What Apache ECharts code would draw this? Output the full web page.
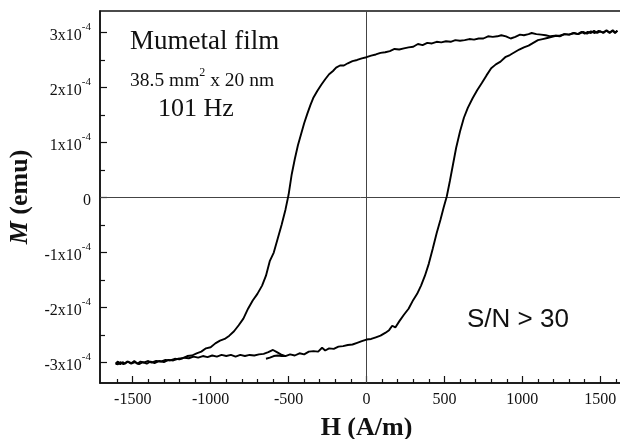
<!DOCTYPE html>
<html>
<head>
<meta charset="utf-8">
<script src="https://cdn.jsdelivr.net/npm/echarts@6/dist/echarts.min.js"></script>
<style>
  html, body { margin: 0; padding: 0; background: #fff; }
  #chart { width: 620px; height: 439px; }
</style>
</head>
<body>
<div id="chart"></div>
<script>
// Hysteresis loop of a Mumetal film: field H (A/m) vs moment M (units of 1e-4 emu)
const risingBranch = [
  [-1610,-3.02],[-1595,-2.98],[-1580,-3.03],[-1565,-2.99],[-1550,-3.02],[-1530,-2.98],[-1510,-3.01],
  [-1490,-2.97],[-1470,-3.02],[-1450,-2.98],[-1430,-3.00],[-1400,-2.97],[-1380,-3.00],[-1350,-2.97],
  [-1320,-2.98],[-1290,-2.95],[-1260,-2.96],[-1230,-2.93],[-1200,-2.94],[-1170,-2.91],[-1140,-2.92],
  [-1110,-2.89],[-1080,-2.91],[-1050,-2.88],[-1020,-2.90],[-990,-2.87],[-960,-2.89],[-930,-2.86],
  [-900,-2.88],[-870,-2.86],[-840,-2.89],[-810,-2.86],[-780,-2.88],[-750,-2.86],[-720,-2.87],
  [-690,-2.85],[-660,-2.84],[-630,-2.81],[-600,-2.77],[-575,-2.81],[-550,-2.85],[-520,-2.88],
  [-490,-2.85],[-460,-2.87],[-430,-2.83],[-400,-2.85],[-370,-2.80],[-340,-2.79],[-310,-2.80],
  [-285,-2.73],[-265,-2.78],[-240,-2.74],[-210,-2.75],[-180,-2.71],[-150,-2.70],[-120,-2.68],
  [-90,-2.67],[-60,-2.64],[-30,-2.61],[0,-2.58],[30,-2.57],[60,-2.54],[90,-2.51],[120,-2.46],
  [145,-2.41],[165,-2.33],[185,-2.36],[210,-2.25],[240,-2.13],[270,-2.02],[300,-1.86],[325,-1.75],
  [350,-1.60],[375,-1.42],[400,-1.20],[425,-0.93],[450,-0.65],[475,-0.40],[495,-0.18],[515,0.02],
  [535,0.30],[555,0.60],[575,0.90],[600,1.20],[625,1.45],[650,1.63],[680,1.80],[710,1.95],
  [740,2.08],[770,2.22],[800,2.35],[830,2.42],[860,2.47],[890,2.55],[920,2.59],[950,2.64],
  [980,2.69],[1010,2.73],[1040,2.76],[1070,2.81],[1100,2.86],[1130,2.88],[1160,2.90],[1190,2.92],
  [1215,2.94],[1240,2.93],[1270,2.97],[1300,2.96],[1330,2.99],[1360,2.97],[1390,3.01],[1415,2.98],
  [1440,3.02],[1465,2.99],[1490,3.03],[1515,3.00],[1540,3.03],[1560,2.99],[1580,3.04],[1595,3.00],
  [1610,3.03]
];

const fallingBranch = [
  [1610,3.03],[1595,2.99],[1580,3.03],[1560,3.00],[1540,3.04],[1520,2.99],[1500,3.02],[1480,2.99],
  [1460,3.03],[1440,2.99],[1420,3.01],[1400,2.98],[1380,3.01],[1355,2.97],[1330,2.99],[1300,2.96],
  [1270,2.97],[1240,2.94],[1210,2.94],[1180,2.93],[1150,2.95],[1120,2.96],[1090,2.97],[1060,2.99],
  [1040,2.97],[1010,2.95],[985,2.96],[955,2.92],[925,2.89],[895,2.93],[865,2.95],[840,2.93],
  [810,2.92],[780,2.93],[750,2.89],[720,2.89],[690,2.87],[660,2.88],[630,2.86],[600,2.85],
  [570,2.86],[540,2.83],[510,2.84],[480,2.82],[450,2.83],[420,2.80],[390,2.81],[360,2.77],
  [330,2.79],[300,2.74],[270,2.73],[240,2.71],[210,2.69],[180,2.70],[150,2.66],[120,2.64],
  [90,2.63],[60,2.60],[30,2.58],[0,2.55],[-30,2.53],[-60,2.50],[-90,2.48],[-120,2.44],
  [-145,2.40],[-170,2.40],[-195,2.36],[-215,2.30],[-240,2.24],[-265,2.15],[-290,2.05],[-315,1.94],
  [-340,1.82],[-360,1.68],[-380,1.52],[-400,1.35],[-420,1.15],[-440,0.95],[-460,0.70],[-480,0.42],
  [-500,0.05],[-520,-0.22],[-545,-0.50],[-570,-0.75],[-595,-1.00],[-620,-1.15],[-645,-1.42],
  [-670,-1.60],[-700,-1.75],[-730,-1.87],[-760,-2.02],[-790,-2.20],[-820,-2.32],[-850,-2.43],
  [-880,-2.51],[-910,-2.57],[-940,-2.60],[-970,-2.65],[-1000,-2.72],[-1030,-2.74],[-1060,-2.80],
  [-1090,-2.83],[-1120,-2.87],[-1150,-2.88],[-1180,-2.92],[-1210,-2.93],[-1240,-2.96],[-1270,-2.95],
  [-1300,-2.99],[-1330,-2.97],[-1360,-3.01],[-1385,-2.98],[-1410,-3.02],[-1435,-2.99],[-1460,-3.03],
  [-1485,-2.99],[-1510,-3.02],[-1535,-2.98],[-1560,-3.03],[-1580,-2.99],[-1595,-3.03],[-1610,-3.02]
];

// start of the recorded trace, before it joins the rising branch
const leadIn = [[-645,-2.93],[-620,-2.91],[-595,-2.88],[-570,-2.87],[-545,-2.88],[-520,-2.88]];

const hMajorTicks = [-1500, -1000, -500, 0, 500, 1000, 1500];
const hMinorTicks = [-1600,-1400,-1300,-1200,-1100,-900,-800,-700,-600,-400,-300,-200,-100,
                     100,200,300,400,600,700,800,900,1100,1200,1300,1400,1600];
const mMajorTicks = [-3, -2, -1, 0, 1, 2, 3];
const mMinorTicks = [-2.5, -1.5, -0.5, 0.5, 1.5, 2.5];

const serif = 'Liberation Serif';
const ink = '#111';

const chart = echarts.init(document.getElementById('chart'), null, { renderer: 'canvas' });

const lineSeries = (data) => ({
  type: 'line',
  data: data,
  showSymbol: false,
  symbol: 'none',
  smooth: false,
  lineStyle: { color: '#000', width: 1.9 },
  z: 3,
  silent: true
});

chart.setOption({
  animation: false,
  backgroundColor: '#fff',
  grid: {
    left: 100, top: 11, width: 533, height: 372,
    show: true, borderColor: ink, borderWidth: 1.5,
    outerBoundsMode: 'none'
  },
  xAxis: [
    {
      type: 'value', min: -1710, max: 1710, position: 'bottom',
      axisLine: { show: true, onZero: false, lineStyle: { color: ink, width: 1.5 } },
      axisTick: { show: true, inside: true, length: 7, customValues: hMajorTicks, lineStyle: { color: ink, width: 1.2 } },
      axisLabel: {
        customValues: hMajorTicks, margin: 9, fontFamily: serif, fontSize: 16, color: ink,
        formatter: (v) => String(v)
      },
      splitLine: { show: false },
      name: 'H (A/m)', nameLocation: 'middle', nameGap: 32,
      nameTextStyle: { fontFamily: serif, fontWeight: 'bold', fontSize: 26, color: ink }
    },
    {
      type: 'value', min: -1710, max: 1710, position: 'bottom',
      axisLine: { show: false, onZero: false },
      axisTick: { show: true, inside: true, length: 4, customValues: hMinorTicks, lineStyle: { color: ink, width: 1.2 } },
      axisLabel: { show: false },
      splitLine: { show: false }
    }
  ],
  yAxis: [
    {
      type: 'value', min: -3.37, max: 3.39, position: 'left',
      axisLine: { show: true, onZero: false, lineStyle: { color: ink, width: 1.5 } },
      axisTick: { show: true, inside: true, length: 7, customValues: mMajorTicks, lineStyle: { color: ink, width: 1.2 } },
      axisLabel: {
        customValues: mMajorTicks, margin: 9, color: ink,
        formatter: (v) => v === 0 ? '{b|0}' : '{b|' + v + 'x10}{s|-4}',
        rich: {
          b: { fontFamily: serif, fontSize: 16, lineHeight: 22, verticalAlign: 'bottom', color: ink },
          s: { fontFamily: serif, fontSize: 11, lineHeight: 11, verticalAlign: 'top', color: ink }
        }
      },
      splitLine: { show: false },
      name: '{i|M} (emu)', nameLocation: 'middle', nameGap: 55,
      nameTextStyle: {
        fontFamily: serif, fontWeight: 'bold', fontSize: 26, color: ink,
        rich: { i: { fontFamily: serif, fontWeight: 'bold', fontStyle: 'italic', fontSize: 26, color: ink } }
      }
    },
    {
      type: 'value', min: -3.37, max: 3.39, position: 'left',
      axisLine: { show: false, onZero: false },
      axisTick: { show: true, inside: true, length: 5, customValues: mMinorTicks, lineStyle: { color: ink, width: 1.2 } },
      axisLabel: { show: false },
      splitLine: { show: false }
    }
  ],
  series: [
    Object.assign(lineSeries(fallingBranch), {
      markLine: {
        silent: true, symbol: ['none', 'none'], label: { show: false },
        lineStyle: { color: '#444', width: 1, type: 'solid' },
        data: [{ xAxis: 0 }, { yAxis: 0 }],
        z: 2
      }
    }),
    lineSeries(risingBranch),
    lineSeries(leadIn)
  ],
  graphic: [
    { type: 'text', left: 130, top: 28, style: { text: 'Mumetal film', font: '27px "Liberation Serif"', fill: ink } },
    {
      type: 'text', left: 130, top: 67,
      style: {
        text: '{a|38.5 mm}{s|2}{a| x 20 nm}',
        rich: {
          a: { fontFamily: serif, fontSize: 19.5, lineHeight: 24, verticalAlign: 'bottom', fill: ink },
          s: { fontFamily: serif, fontSize: 12, lineHeight: 12, verticalAlign: 'top', fill: ink }
        }
      }
    },
    { type: 'text', left: 158, top: 96, style: { text: '101 Hz', font: '26px "Liberation Serif"', fill: ink } },
    { type: 'text', left: 467, top: 307, style: { text: 'S/N > 30', font: '26px "Liberation Sans"', fill: ink } }
  ]
});
</script>
</body>
</html>
